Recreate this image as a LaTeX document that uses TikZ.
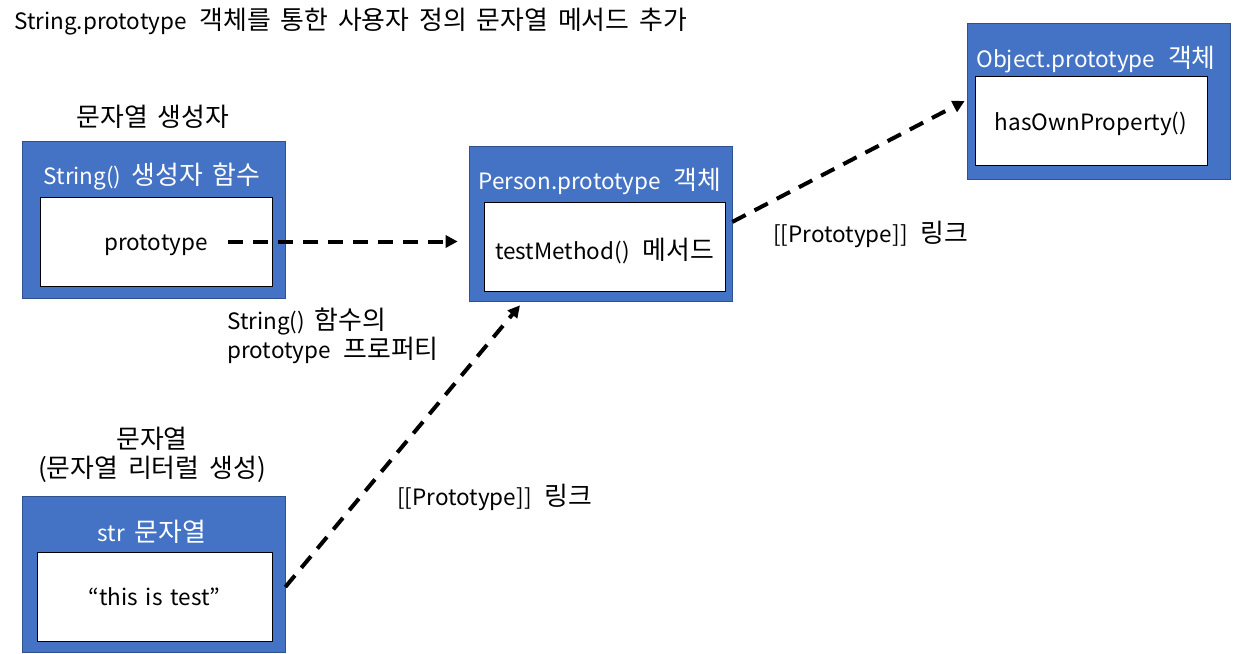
\documentclass[tikz,border=0pt]{standalone}
\usepackage{fontspec}
\setmainfont[WordSpace=1.6]{Noto Sans CJK KR}
\newfontfamily\krfont[Scale=1.15, WordSpace=1.7]{Noto Sans CJK KR}
\newcommand\krtext[1]{{\krfont #1}}
\newcommand\widegap{\hspace{9pt}}
\newcommand\lowered[1]{\raisebox{-2.5pt}[\height][\depth]{#1}}
\usepackage{tikz}
\usetikzlibrary{arrows.meta, positioning, calc}
\definecolor{boxblue}{HTML}{4472C4}
\definecolor{boxedge}{HTML}{2F528F}
\tikzset{
  outerbox/.style={draw=boxedge, fill=boxblue, minimum width=6.575cm, inner sep=0pt},
  innerbox/.style={draw=black, fill=white, inner sep=0pt, minimum height=2.225cm},
  boxtitle/.style={text=white, inner sep=0pt},
  link/.style={-{Triangle[length=0.3cm,width=0.3cm]}, line width=0.1cm, dash pattern=on 0.375cm off 0.25cm}
}
\begin{document}
\begin{tikzpicture}[x=0.025cm, y=-0.025cm, font=\fontsize{16}{21}\selectfont]
\useasboundingbox (0,0) rectangle (1233,653);

\node[anchor=west, inner sep=0pt] (title) at (14,22) {String.prototype\widegap\krtext{객체를 통한 사용자 정의 문자열 메서드 추가}};

\node (ctorlbl) at (153,117) {\krtext{문자열 생성자}};
\node[outerbox, minimum height=3.925cm] (ctor) at (153.5,219.5) {};
\node[boxtitle] (ctortitle) at (152,177) {String()\krtext{ 생성자 함수}};
\node[innerbox, minimum width=5.8cm] (protobox) at (156,241.5) {\lowered{prototype}};

\node[outerbox, minimum height=3.875cm] (person) at (600.5,223.5) {};
\node[boxtitle] (persontitle) at (600,181) {Person.prototype\widegap\krtext{객체}};
\node[innerbox, minimum width=6.025cm] (methodbox) at (604.5,247) {\lowered{testMethod()\widegap\krtext{메서드}}};

\node[outerbox, minimum height=3.9cm] (object) at (1098.5,101) {};
\node[boxtitle] (objecttitle) at (1096,60) {Object.prototype\widegap\krtext{객체}};
\node[innerbox, minimum width=5.8cm] (ownbox) at (1091,120.5) {\lowered{hasOwnProperty()}};

\node[align=center] (strlbl) at (152,455) {\krtext{문자열}\\\krtext{(문자열 리터럴 생성)}};
\node[outerbox, minimum height=3.9cm] (str) at (153.5,574) {};
\node[boxtitle] (strtitle) at (152,532) {str\krtext{ 문자열}};
\node[innerbox, minimum width=5.875cm] (valbox) at (154.5,596.5) {“this is test”};

\node[anchor=west, align=left, inner sep=0pt] (protolbl) at (227,336) {String()\krtext{ 함수의}\\prototype\widegap\krtext{프로퍼티}};
\node[anchor=west, inner sep=0pt] (linklbl) at (397,497) {[[Prototype]]\widegap\krtext{링크}};
\node[anchor=west, inner sep=0pt] (objlinklbl) at (773,234) {[[Prototype]]\widegap\krtext{링크}};

\draw[link] ([xshift=1.8cm]protobox.center) -- ([xshift=-0.275cm]protobox.center -| person.west);
\draw[link] ([yshift=-0.325cm]str.east) -- ([xshift=-2.0125cm, yshift=-0.1cm]person.south);
\draw[link] ([yshift=0.04cm]person.east) -- ([xshift=-0.05cm]object.west);
\end{tikzpicture}
\end{document}
